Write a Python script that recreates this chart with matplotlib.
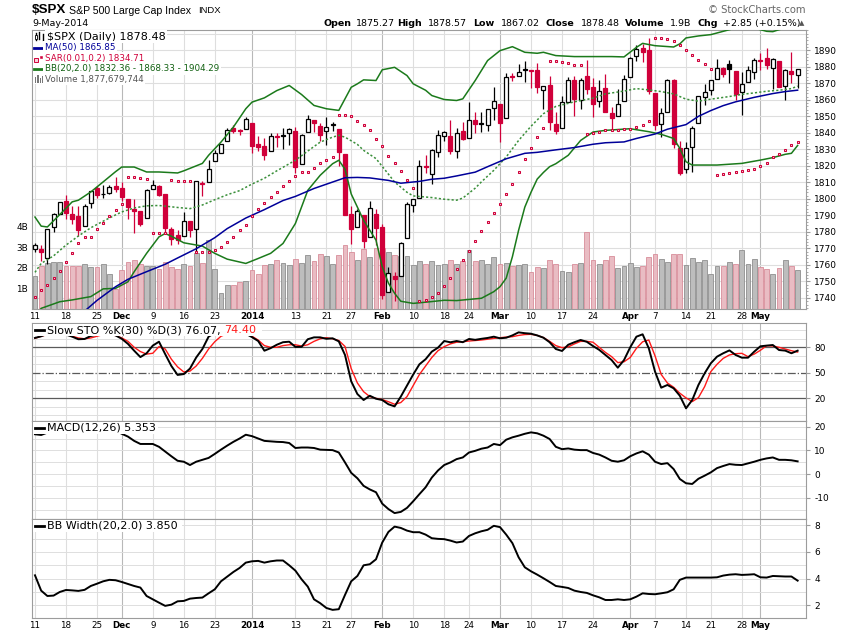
import numpy as np
import matplotlib.pyplot as plt
from matplotlib.lines import Line2D
from matplotlib.patches import Rectangle
from matplotlib.ticker import MultipleLocator
from matplotlib.transforms import blended_transform_factory

plt.rcParams['font.family'] = ['DejaVu Sans']
plt.rcParams['axes.unicode_minus'] = False

# ---------------- values (one entry per trading day, 11-Nov-2013 .. 9-May-2014) ----------------
prev_close = 1770.61

opens = [1769.65, 1769.51, 1764.37, 1782.75, 1790.66, 1798.82, 1790.79, 1789.59, 1783.52, 1797.21,
         1806.33, 1802.87, 1803.48, 1808.01, 1806.55, 1800.10, 1794.17, 1792.82, 1788.36, 1806.21,
         1807.60, 1802.76, 1781.71, 1777.98, 1777.48, 1786.47, 1781.46, 1809.00, 1810.39, 1822.92,
         1828.02, 1834.96, 1842.97, 1841.47, 1842.61, 1845.86, 1833.21, 1832.31, 1828.71, 1837.90,
         1839.00, 1840.06, 1841.26, 1821.36, 1840.52, 1847.99, 1844.23, 1841.05, 1844.71, 1842.29,
         1826.96, 1791.03, 1783.00, 1790.15, 1777.17, 1790.88, 1782.68, 1743.82, 1753.38, 1752.99,
         1776.01, 1796.20, 1800.45, 1820.12, 1814.82, 1828.46, 1838.22, 1838.30, 1829.24, 1841.07,
         1836.78, 1847.66, 1845.79, 1844.90, 1855.12, 1857.68, 1849.23, 1874.05, 1874.18, 1878.52,
         1877.86, 1878.26, 1866.15, 1869.06, 1845.07, 1842.81, 1858.92, 1872.25, 1860.09, 1874.53,
         1867.67, 1859.48, 1867.09, 1852.11, 1850.07, 1859.16, 1873.96, 1886.61, 1891.43, 1890.25,
         1863.92, 1845.48, 1852.64, 1872.28, 1830.65, 1818.18, 1831.45, 1846.01, 1861.73, 1865.79,
         1872.57, 1879.32, 1881.97, 1877.72, 1865.00, 1870.78, 1877.10, 1884.39, 1885.30, 1879.45,
         1883.69, 1868.53, 1877.39, 1875.27]
highs = [1773.44, 1771.78, 1782.00, 1791.53, 1798.22, 1802.33, 1795.51, 1795.73, 1797.16, 1804.84,
         1808.09, 1808.42, 1808.27, 1813.55, 1810.02, 1800.10, 1799.80, 1792.82, 1806.04, 1811.52,
         1808.52, 1802.97, 1782.99, 1780.92, 1792.22, 1786.77, 1811.08, 1810.88, 1823.75, 1829.75,
         1833.32, 1842.84, 1844.89, 1842.47, 1849.44, 1845.86, 1838.24, 1837.16, 1840.10, 1840.02,
         1843.23, 1843.15, 1843.45, 1839.26, 1850.84, 1847.99, 1846.04, 1849.31, 1846.87, 1842.29,
         1826.96, 1795.98, 1793.87, 1790.15, 1798.77, 1793.88, 1784.83, 1758.73, 1755.79, 1774.06,
         1798.03, 1799.94, 1823.54, 1826.55, 1830.25, 1841.65, 1840.82, 1847.50, 1842.79, 1846.50,
         1858.71, 1852.91, 1852.65, 1854.53, 1867.92, 1857.68, 1876.23, 1876.53, 1881.94, 1883.57,
         1877.87, 1882.35, 1868.38, 1874.40, 1852.44, 1862.30, 1873.76, 1874.14, 1873.49, 1883.97,
         1873.34, 1871.87, 1875.92, 1855.55, 1866.63, 1875.18, 1885.84, 1893.17, 1893.80, 1897.28,
         1864.04, 1854.95, 1872.43, 1872.53, 1835.07, 1834.19, 1844.02, 1862.31, 1869.63, 1871.89,
         1884.89, 1879.75, 1884.06, 1877.72, 1877.01, 1880.60, 1885.20, 1888.59, 1891.33, 1885.51,
         1883.69, 1878.83, 1889.07, 1878.57]
lows = [1767.85, 1762.29, 1760.64, 1780.22, 1790.66, 1788.00, 1784.72, 1777.23, 1783.52, 1794.70,
        1800.58, 1800.77, 1802.77, 1803.98, 1798.60, 1787.85, 1779.09, 1783.38, 1788.36, 1806.21,
        1801.75, 1780.09, 1772.28, 1772.45, 1777.48, 1777.05, 1767.99, 1801.80, 1810.25, 1822.92,
        1828.02, 1834.96, 1839.81, 1838.77, 1842.41, 1827.74, 1829.13, 1823.73, 1828.71, 1831.40,
        1830.38, 1832.43, 1815.52, 1821.36, 1840.52, 1840.30, 1835.23, 1832.38, 1840.88, 1820.06,
        1790.29, 1772.88, 1783.00, 1770.45, 1777.17, 1772.26, 1739.66, 1743.82, 1737.92, 1752.99,
        1776.01, 1791.83, 1800.41, 1815.97, 1809.22, 1825.59, 1835.07, 1826.99, 1824.58, 1835.60,
        1836.78, 1840.19, 1840.66, 1841.13, 1847.67, 1834.44, 1849.23, 1871.11, 1874.18, 1870.56,
        1867.04, 1863.88, 1854.38, 1841.86, 1839.57, 1842.81, 1858.92, 1850.35, 1854.63, 1863.46,
        1849.69, 1855.96, 1852.56, 1842.11, 1850.07, 1859.16, 1873.96, 1883.79, 1882.65, 1863.26,
        1841.48, 1837.49, 1852.38, 1830.87, 1814.36, 1815.80, 1816.29, 1846.01, 1856.72, 1863.18,
        1872.57, 1873.91, 1870.24, 1859.70, 1850.61, 1870.78, 1872.69, 1878.04, 1878.50, 1866.77,
        1867.72, 1859.79, 1870.05, 1867.02]
closes = [1771.89, 1767.69, 1782.00, 1790.62, 1798.18, 1791.53, 1787.87, 1781.37, 1795.85, 1804.76,
          1802.48, 1802.75, 1807.23, 1805.81, 1800.90, 1795.15, 1792.81, 1785.03, 1805.09, 1808.37,
          1802.62, 1782.22, 1775.50, 1775.32, 1786.54, 1781.00, 1810.65, 1809.60, 1818.32, 1827.99,
          1833.32, 1842.02, 1841.40, 1841.07, 1848.36, 1831.98, 1831.37, 1826.77, 1837.88, 1837.49,
          1838.13, 1842.37, 1819.20, 1838.88, 1848.38, 1845.89, 1838.70, 1843.80, 1844.86, 1828.46,
          1790.29, 1781.56, 1792.50, 1774.20, 1794.19, 1782.59, 1741.89, 1755.20, 1751.64, 1773.43,
          1797.02, 1799.84, 1819.75, 1819.26, 1829.83, 1838.63, 1840.76, 1828.75, 1839.78, 1836.25,
          1847.61, 1845.12, 1845.16, 1854.29, 1859.45, 1845.73, 1873.91, 1873.81, 1877.03, 1878.04,
          1877.17, 1867.63, 1868.20, 1846.34, 1841.13, 1858.83, 1872.25, 1860.77, 1872.01, 1866.52,
          1857.44, 1865.62, 1852.56, 1849.04, 1857.62, 1872.34, 1885.52, 1890.90, 1888.77, 1865.09,
          1845.04, 1851.96, 1872.18, 1833.08, 1815.69, 1830.61, 1842.98, 1862.31, 1864.85, 1871.89,
          1879.55, 1875.39, 1878.61, 1863.40, 1869.43, 1878.33, 1883.95, 1883.68, 1881.14, 1884.66,
          1867.72, 1878.21, 1875.63, 1878.48]
volume_b = [1.62, 2.10, 2.26, 2.31, 2.31, 2.10, 2.10, 2.10, 2.18, 2.05,
            2.05, 2.18, 1.70, 0.97, 1.89, 2.30, 2.38, 2.21, 2.10, 2.10,
            1.94, 2.30, 2.07, 1.94, 2.18, 2.10, 2.75, 2.23, 3.35, 1.94,
            0.78, 1.16, 1.18, 1.31, 1.37, 1.89, 1.70, 2.15, 2.18, 2.38,
            2.26, 2.15, 2.43, 2.26, 2.62, 2.34, 2.67, 2.59, 2.21, 2.64,
            3.12, 2.77, 2.38, 2.91, 2.54, 2.96, 2.99, 2.77, 2.64, 2.57,
            2.57, 2.15, 2.33, 2.18, 2.33, 2.15, 2.18, 2.38, 2.20, 2.35,
            2.86, 2.34, 2.38, 2.18, 2.54, 2.18, 2.24, 2.09, 2.14, 2.18,
            1.81, 2.05, 1.99, 2.38, 2.18, 1.86, 1.80, 2.18, 2.24, 3.74,
            2.38, 2.18, 2.38, 2.57, 1.99, 2.09, 2.23, 2.05, 2.09, 2.55,
            2.67, 2.44, 2.28, 2.67, 2.67, 2.15, 2.48, 2.28, 2.39, 1.70,
            2.09, 2.09, 2.28, 2.18, 2.88, 2.18, 2.44, 2.04, 1.96, 1.70,
            1.99, 2.39, 2.09, 1.88]
sar = [1740.8, 1744.8, 1747.8, 1752.3, 1756.1, 1761.5, 1767.4, 1773.0, 1777.0, 1777.0,
       1781.7, 1785.1, 1789.5, 1793.1, 1797.0, 1813.5, 1813.5, 1812.9, 1812.1, 1779.1,
       1779.6, 1779.6, 1811.5, 1811.1, 1811.1, 1810.7, 1768.0, 1768.0, 1768.0, 1769.0,
       1770.8, 1773.6, 1776.8, 1781.0, 1784.3, 1789.5, 1793.7, 1797.6, 1801.2, 1804.2,
       1807.6, 1810.6, 1813.7, 1816.1, 1816.1, 1818.5, 1821.7, 1823.8, 1825.6, 1850.8,
       1850.8, 1850.0, 1847.3, 1844.7, 1841.9, 1836.4, 1831.8, 1826.2, 1821.7, 1816.7,
       1811.7, 1806.3, 1737.9, 1738.8, 1740.4, 1743.0, 1747.2, 1751.9, 1757.3, 1762.9,
       1768.4, 1774.4, 1780.3, 1785.7, 1791.3, 1797.2, 1802.8, 1809.3, 1816.5, 1824.0,
       1831.0, 1837.3, 1842.7, 1883.6, 1883.6, 1883.0, 1882.4, 1881.4, 1880.8, 1839.6,
       1839.9, 1840.7, 1841.5, 1841.5, 1842.0, 1842.1, 1842.5, 1843.5, 1844.7, 1847.3,
       1897.3, 1897.3, 1896.7, 1895.4, 1893.4, 1890.2, 1887.2, 1884.2, 1882.0, 1878.5,
       1814.4, 1815.3, 1815.9, 1816.5, 1816.9, 1817.3, 1818.1, 1820.1, 1821.9, 1825.2,
       1827.4, 1829.6, 1832.8, 1834.7]

# overlay lines, read at selected days
ma50_day = [8, 10, 13, 15, 18, 21, 23, 26, 29, 31, 34, 37, 40, 42, 45, 48, 50, 52, 54, 57, 59, 62, 64,
            66, 68, 71, 73, 76, 79, 81, 84, 87, 90, 92, 95, 97, 100, 102, 105, 107, 109, 111, 113, 116,
            119, 121, 123]
ma50 = [1732.0, 1738.5, 1746.8, 1751.3, 1755.9, 1760.4, 1764.2, 1769.8, 1776.5, 1782.0, 1788.4, 1793.5,
        1799.0, 1801.5, 1806.3, 1810.2, 1812.8, 1813.0, 1812.7, 1811.2, 1809.5, 1810.6, 1811.9, 1812.5,
        1813.9, 1816.2, 1819.5, 1824.3, 1827.6, 1828.2, 1829.7, 1831.1, 1833.1, 1834.0, 1834.5, 1836.6,
        1839.3, 1842.2, 1845.0, 1850.0, 1853.5, 1856.5, 1858.8, 1861.5, 1863.8, 1865.0, 1865.85]
bb_up_day = [0, 1, 2, 4, 6, 7, 9, 11, 13, 14, 16, 18, 20, 23, 24, 27, 28, 30, 32, 34, 35, 37, 39, 41,
             43, 45, 47, 49, 51, 52, 53, 55, 56, 58, 60, 61, 63, 64, 66, 68, 69, 71, 73, 75, 77, 79,
             81, 82, 84, 87, 90, 93, 95, 97, 98, 100, 103, 104, 105, 107, 109, 110, 111, 112, 113,
             114, 115, 116, 117, 118, 119, 120, 121, 122, 123]
bb_up = [1789.0, 1783.5, 1783.0, 1790.5, 1798.2, 1799.2, 1804.2, 1810.3, 1816.5, 1819.3, 1819.3,
         1816.3, 1816.3, 1815.7, 1817.0, 1821.5, 1826.4, 1834.4, 1843.5, 1854.6, 1858.6, 1861.2,
         1865.6, 1868.7, 1863.2, 1856.6, 1854.6, 1853.6, 1867.6, 1869.7, 1872.1, 1871.7, 1878.2,
         1879.7, 1874.7, 1869.7, 1865.8, 1862.6, 1860.2, 1859.6, 1860.6, 1871.7, 1883.8, 1889.8,
         1892.2, 1888.8, 1888.2, 1888.8, 1886.8, 1886.2, 1886.2, 1886.2, 1886.0, 1891.8, 1894.2,
         1892.8, 1892.0, 1893.9, 1897.5, 1898.7, 1899.5, 1900.5, 1901.5, 1902.5, 1903.5, 1904.0,
         1904.0, 1903.5, 1902.5, 1901.5, 1901.3, 1902.5, 1903.5, 1904.0, 1904.29]
bb_mid_day = [0, 1, 3, 5, 7, 9, 11, 13, 14, 16, 18, 20, 21, 23, 25, 27, 29, 31, 33, 35, 37, 39, 42,
              44, 46, 48, 49, 50, 52, 53, 55, 57, 58, 60, 61, 64, 66, 68, 69, 71, 72, 74, 76, 78, 80,
              82, 84, 87, 90, 92, 95, 97, 99, 101, 103, 105, 107, 109, 112, 114, 116, 118, 120, 122,
              123]
bb_mid = [1755.5, 1760.9, 1765.5, 1772.0, 1777.5, 1782.5, 1786.5, 1790.3, 1792.1, 1794.5, 1795.8,
          1796.0, 1795.6, 1794.8, 1794.1, 1796.3, 1799.5, 1802.5, 1805.0, 1809.0, 1812.5, 1817.0,
          1823.4, 1829.0, 1834.4, 1837.4, 1838.5, 1837.4, 1833.0, 1829.4, 1824.4, 1815.0, 1810.2,
          1804.0, 1801.8, 1800.8, 1799.8, 1799.2, 1800.5, 1806.5, 1810.3, 1817.3, 1825.4, 1835.4,
          1844.0, 1851.6, 1856.0, 1858.8, 1861.0, 1863.6, 1865.3, 1866.8, 1866.0, 1865.0, 1863.6,
          1860.4, 1859.2, 1860.4, 1862.0, 1863.3, 1864.2, 1865.2, 1865.8, 1866.8, 1868.33]
bb_low_day = [0, 1, 4, 6, 9, 11, 13, 15, 16, 18, 20, 21, 22, 24, 27, 29, 31, 34, 36, 38, 40, 42, 44,
              46, 48, 49, 50, 51, 52, 53, 54, 55, 56, 57, 58, 59, 61, 64, 66, 68, 72, 74, 75, 76, 77,
              78, 79, 80, 81, 82, 83, 84, 86, 88, 90, 92, 94, 96, 99, 101, 103, 104, 105, 106, 108,
              110, 114, 117, 119, 121, 122, 123]
bb_low = [1729.0, 1733.7, 1737.7, 1738.8, 1740.8, 1745.5, 1745.8, 1749.8, 1755.9, 1767.0, 1777.0,
          1779.0, 1777.4, 1773.4, 1771.4, 1767.0, 1763.5, 1760.9, 1763.9, 1767.0, 1773.0, 1785.1,
          1805.2, 1814.3, 1821.3, 1823.4, 1818.0, 1803.0, 1795.0, 1787.0, 1781.0, 1775.0, 1759.0,
          1749.0, 1742.8, 1738.0, 1736.7, 1737.8, 1738.6, 1738.4, 1739.8, 1743.8, 1746.8, 1752.0,
          1765.0, 1781.0, 1795.0, 1804.0, 1812.0, 1816.0, 1819.5, 1821.3, 1826.4, 1835.4, 1840.5,
          1841.5, 1842.0, 1842.5, 1840.7, 1839.1, 1836.6, 1830.6, 1822.5, 1820.5, 1820.5, 1820.5,
          1821.5, 1823.5, 1825.0, 1827.0, 1827.6, 1832.36]

# indicator panels, one value per day
sto_k = [91, 93, 96, 97, 97, 95, 92.5, 89.5, 89.8, 93.3, 95, 96, 96, 94, 90, 84, 76, 68.5, 73, 82,
         86.6, 72, 58, 47.5, 48.5, 55, 68, 78, 92.5, 97, 98, 99, 98, 97, 96, 92, 87.4, 76, 79, 83,
         86, 86.6, 80.5, 80.6, 89.5, 91.7, 91.7, 90, 90.6, 87, 71, 40, 25, 18, 23, 19.5, 18, 13,
         10.5, 22, 35, 48, 60, 66, 74.9, 79.6, 87.4, 85.9, 87.4, 86, 89.8, 88.8, 90, 91, 92.5,
         90.6, 91.3, 94, 97.6, 96.6, 96, 94, 91.3, 86, 78, 75.7, 83, 86, 88.6, 86.5, 81.5, 77, 71,
         65, 56, 65, 80, 92.5, 95.3, 78.8, 51.4, 32.5, 35.7, 31.8, 23, 8.2, 18, 35.7, 49.4, 61.2,
         69, 73, 76.4, 71, 67.8, 67.8, 74.9, 81.2, 82, 82.7, 76.8, 76.1, 73, 76.07]
sto_d = [90.6, 93, 95, 96, 96.5, 95.5, 93, 91, 90, 91, 93, 95, 95.5, 94, 91, 87, 80, 75, 72, 73,
         80.8, 78, 66, 57, 51, 52, 58, 67, 78, 86.6, 93, 96, 97.5, 97.5, 96.5, 93, 88.5, 82, 80, 80,
         82, 83, 83, 81.5, 83, 87, 90, 91.3, 90, 88, 81, 55, 38, 27.8, 22, 20, 18.5, 16, 13, 15, 22,
         35, 48, 58, 68, 76, 80.8, 84, 86, 86.6, 87.4, 88, 88.6, 89.5, 90.5, 91.3, 92, 92.5, 94, 95,
         95.3, 94, 91.5, 87, 82, 79.6, 80.5, 84, 87, 87, 86, 80, 74, 69, 62, 63, 68, 78.8, 86.5,
         88.6, 70, 48, 38, 33, 26, 20.5, 16.1, 20.8, 33.7, 51.4, 60, 67, 71, 72.5, 72.9, 69, 72,
         76.5, 81.9, 81.5, 80, 78, 76, 74.40]
macd = [16.8, 16.5, 17.5, 18.5, 19.5, 20, 19.5, 18.5, 18.5, 19, 19.5, 19.2, 18.8, 18.3, 17, 15.8, 14,
        12.7, 12.7, 12.7, 11.5, 9.5, 7.5, 5.6, 5.2, 3.8, 5.2, 6, 6.8, 8.5, 10.3, 12, 13.6, 15, 16.6,
        16, 15, 14, 13.8, 13.6, 13.5, 13.1, 11, 11.2, 11.2, 11, 10.3, 10.2, 10.1, 9.1, 4.9, 0.5, -1.8,
        -5, -6.5, -7.7, -12.5, -14.8, -16.5, -16, -14.3, -11.5, -8.5, -5.6, -1.5, 1.5, 3.8, 4.9, 6.3,
        7, 9.1, 9.8, 10.7, 11.2, 12.7, 12.2, 14.5, 15.5, 16.2, 17, 17.6, 17.2, 16.2, 14.8, 11.5, 10.5,
        10.8, 10.3, 10.1, 10.1, 8.9, 8.2, 7, 5.6, 5.2, 5.8, 7.5, 8.7, 9.6, 8.2, 5.2, 4.2, 4.6, 2.1,
        -2.1, -3.9, -4.2, -2, -0.7, 0.7, 2.5, 3.4, 4.2, 3.9, 3.8, 4.5, 5.2, 6, 6.6, 7, 6, 6, 5.8,
        5.353]
bb_width = [4.25, 3.1, 2.7, 2.73, 3.0, 3.15, 3.12, 3.08, 3.16, 3.45, 3.62, 3.8, 3.91, 3.88, 3.75,
            3.6, 3.45, 3.33, 2.7, 2.45, 2.2, 1.96, 2.05, 2.3, 2.33, 2.5, 2.55, 2.58, 2.9, 3.2, 3.8,
            4.15, 4.5, 4.8, 5.2, 5.3, 5.33, 5.2, 5.3, 5.36, 5.36, 5.0, 4.6, 3.95, 3.4, 2.45, 2.16,
            1.8, 1.66, 1.71, 2.78, 3.8, 4.2, 5.0, 5.08, 5.45, 6.7, 7.5, 7.9, 7.8, 7.6, 7.48, 7.48,
            7.3, 7.03, 6.98, 6.96, 6.85, 6.71, 6.78, 7.2, 7.4, 7.55, 7.66, 7.96, 7.86, 7.3, 6.66, 5.6,
            4.85, 4.55, 4.3, 4.03, 3.75, 3.45, 3.38, 3.3, 3.1, 3.0, 2.93, 2.75, 2.6, 2.4, 2.4, 2.45,
            2.4, 2.45, 2.65, 2.9, 2.85, 2.83, 2.9, 2.98, 3.2, 3.91, 4.08, 4.08, 4.08, 4.08, 4.08, 4.1,
            4.23, 4.3, 4.33, 4.28, 4.3, 4.33, 4.1, 4.08, 4.2, 4.18, 4.16, 4.16, 3.85]

tick_days = [0, 5, 10, 14, 19, 24, 29, 35, 42, 47, 51, 56, 61, 66, 70, 75, 80, 85, 90, 96, 100,
             105, 109, 114, 117]
tick_labels = ['11', '18', '25', 'Dec', '9', '16', '23', '2014', '13', '21', '27', 'Feb', '10', '18',
               '24', 'Mar', '10', '17', '24', 'Apr', '7', '14', '21', '28', 'May']
month_labels = ['Dec', '2014', 'Feb', 'Mar', 'Apr', 'May']

# ---------------- styling ----------------
RED = '#d0003a'
PINK, PINK_EDGE = '#e9bcc3', '#d88d9a'
GRAY, GRAY_EDGE = '#bdbdbd', '#8f8f8f'
GREEN = '#1b7a1b'
NAVY = '#000099'
GRID, GRID_MONTH = '#dedede', '#b8b8b8'
SPINE = '#9c9c9c'

W, H = 850, 633
fig = plt.figure(figsize=(W / 100, H / 100), dpi=100)


def box(x0, y0, x1, y1):
    return [x0 / W, 1 - y1 / H, (x1 - x0) / W, (y1 - y0) / H]


def fp(x, y):
    return x / W, 1 - y / H


def white_box(a, x0, y0, x1, y1):
    a.add_patch(Rectangle(fp(x0, y1), (x1 - x0) / W, (y1 - y0) / H, transform=fig.transFigure,
                          facecolor='white', edgecolor='none', zorder=20))


def fig_line(x0, y0, x1, y1, color, lw=2.0):
    fig.add_artist(Line2D([x0 / W, x1 / W], [1 - y0 / H, 1 - y1 / H], color=color, lw=lw,
                          transform=fig.transFigure, zorder=30))


XLIM = (-0.48, 124.35)
n = len(closes)
x = np.arange(n)
prev = [prev_close] + closes[:-1]
up_day = [c >= p for c, p in zip(closes, prev)]


def vgrid(a):
    for d, lab in zip(tick_days, tick_labels):
        a.axvline(d, color=GRID_MONTH if lab in month_labels else GRID, lw=0.8, zorder=0)


def style_spines(a):
    for s in a.spines.values():
        s.set_color(SPINE)
        s.set_linewidth(0.8)


def date_labels(a):
    a.set_xticks(tick_days)
    a.set_xticklabels(tick_labels)
    for t in a.get_xticklabels():
        t.set_fontsize(6.3)
        if t.get_text() in month_labels:
            t.set_fontweight('bold')
    a.tick_params(axis='x', length=0, pad=2.5)


# ---------------- main price panel ----------------
ax_vol = fig.add_axes(box(32, 30, 806, 309))
ax_vol.set_zorder(1)
ax = fig.add_axes(box(32, 30, 806, 309), sharex=ax_vol)
ax.set_zorder(2)
ax.patch.set_visible(False)

vgrid(ax_vol)
gtr = blended_transform_factory(ax_vol.transAxes, ax.transData)
for p in np.arange(1740, 1901, 10):
    ax_vol.plot([0, 1], [p, p], color=GRID, lw=0.8, transform=gtr, zorder=0)

ax_vol.bar(x, volume_b, width=0.78,
           color=[GRAY if u else PINK for u in up_day],
           edgecolor=[GRAY_EDGE if u else PINK_EDGE for u in up_day], linewidth=0.6, zorder=2)
ax_vol.set_ylim(0, 13.6)
ax_vol.set_yticks([1, 2, 3, 4])
ax_vol.set_yticklabels(['1B', '2B', '3B', '4B'])
ax_vol.tick_params(axis='y', labelsize=6.4, length=0, pad=3)
style_spines(ax_vol)
plt.setp(ax_vol.get_xticklabels(), visible=False)
ax_vol.tick_params(axis='x', length=0)

# candlesticks
for i in range(n):
    col = 'black' if up_day[i] else RED
    hollow = closes[i] >= opens[i]
    lo, hi = min(opens[i], closes[i]), max(opens[i], closes[i])
    ax.plot([i, i], [lows[i], highs[i]], color=col, lw=0.9, zorder=3, solid_capstyle='butt')
    ax.bar(i, max(hi - lo, 0.35), bottom=lo, width=0.64, facecolor='white' if hollow else col,
           edgecolor=col, linewidth=0.9, zorder=4)

ax.plot(bb_up_day, bb_up, color=GREEN, lw=1.1, zorder=5)
ax.plot(bb_low_day, bb_low, color=GREEN, lw=1.1, zorder=5)
ax.plot(bb_mid_day, bb_mid, color='#3a8f3a', lw=1.1, ls=(0, (1.4, 1.4)), zorder=5)
ax.plot(ma50_day, ma50, color=NAVY, lw=1.1, zorder=5)
ax.plot(x, sar, ls='none', marker='s', ms=2.1, mfc='#f7d3da', mec=RED, mew=0.75, zorder=6)

ax.set_ylim(1733.3, 1902.3)
ax.set_xlim(*XLIM)
ax.yaxis.tick_right()
ax.set_yticks(np.arange(1740, 1891, 10))
ax.yaxis.set_minor_locator(MultipleLocator(2))
ax.tick_params(axis='y', which='major', labelsize=6.5, length=3, color=SPINE, pad=3)
ax.tick_params(axis='y', which='minor', length=1.5, color=SPINE)
for s in ax.spines.values():
    s.set_visible(False)
date_labels(ax)
white_box(ax, 32.5, 30.5, 46, 84)

# ---------------- Slow STO ----------------
ax_sto = fig.add_axes(box(32, 323, 806, 421), sharex=ax_vol)
vgrid(ax_sto)
for lv in range(0, 101, 10):
    if lv not in (20, 50, 80):
        ax_sto.axhline(lv, color=GRID, lw=0.7, zorder=0)
ax_sto.axhline(80, color='#5a5a5a', lw=0.9, zorder=1)
ax_sto.axhline(20, color='#5a5a5a', lw=0.9, zorder=1)
ax_sto.axhline(50, color='#5a5a5a', lw=0.9, ls='-.', zorder=1)
ax_sto.plot(x, sto_d, color='#ff1a1a', lw=1.0, zorder=3)
ax_sto.plot(x, sto_k, color='black', lw=1.4, zorder=4)
ax_sto.set_ylim(-6.7, 108.6)
ax_sto.set_yticks([20, 50, 80])
white_box(ax_sto, 32.5, 323.5, 262, 336)

# ---------------- MACD ----------------
ax_macd = fig.add_axes(box(32, 421, 806, 519), sharex=ax_vol)
vgrid(ax_macd)
for lv in range(-15, 21, 5):
    ax_macd.axhline(lv, color=GRID, lw=0.7, zorder=0)
ax_macd.plot(x, macd, color='black', lw=1.4, zorder=3)
ax_macd.set_ylim(-19, 22.4)
ax_macd.set_yticks([-10, 0, 10, 20])
white_box(ax_macd, 32.5, 421.5, 158, 434)

# ---------------- BB Width ----------------
ax_bbw = fig.add_axes(box(32, 519, 806, 618), sharex=ax_vol)
vgrid(ax_bbw)
for lv in range(2, 9):
    ax_bbw.axhline(lv, color=GRID, lw=0.7, zorder=0)
ax_bbw.plot(x, bb_width, color='black', lw=1.4, zorder=3)
ax_bbw.set_ylim(1.05, 8.47)
ax_bbw.set_yticks([2, 4, 6, 8])
white_box(ax_bbw, 32.5, 519.5, 182, 532)

for a in (ax_sto, ax_macd, ax_bbw):
    a.yaxis.tick_right()
    a.tick_params(axis='y', labelsize=6.5, length=3, color=SPINE, pad=3)
    style_spines(a)
    a.set_xlim(*XLIM)
for a in (ax_sto, ax_macd):
    plt.setp(a.get_xticklabels(), visible=False)
    a.tick_params(axis='x', length=0)
date_labels(ax_bbw)
ax_bbw.tick_params(axis='x', labelbottom=True)

# ---------------- header ----------------
fig.text(*fp(32, 10), '$SPX', fontsize=9.6, fontweight='bold', family='Liberation Sans', va='center')
fig.text(*fp(69, 10.5), 'S&P 500 Large Cap Index', fontsize=7.6, family='Liberation Sans', va='center')
fig.text(*fp(198, 10.5), 'INDX', fontsize=6.8, family='Liberation Sans', va='center')
fig.text(*fp(32, 23.5), '9-May-2014', fontsize=6.8, va='center')
fig.text(*fp(806, 10), '\u00a9 StockCharts.com', fontsize=7.2, color='#666666', va='center', ha='right')

header = [('Open', 323, True), ('1875.27', 356, False), ('High', 397, True), ('1878.57', 428, False),
          ('Low', 473, True), ('1867.02', 501, False), ('Close', 545, True), ('1878.48', 581, False),
          ('Volume', 625, True), ('1.9B', 670, False), ('Chg', 698, True), ('+2.85 (+0.15%)', 723, False)]
for s, hx, bold in header:
    fig.text(*fp(hx, 23.5), s, fontsize=6.8, fontweight='bold' if bold else 'normal', va='center')
fig.text(*fp(799, 23), '\u25b2', fontsize=5, color='#555555', va='center')

# ---------------- legends ----------------
wb = dict(facecolor='white', edgecolor='none', pad=1.2)
for cx, h0, h1 in [(35.5, 33, 40), (39, 32, 39), (42.5, 34, 40)]:
    fig_line(cx, h0, cx, h1, 'black', lw=1.0)
fig.add_artist(Rectangle(fp(34.5, 38.5), 2 / W, 4 / H, transform=fig.transFigure,
                         facecolor='white', edgecolor='black', lw=0.6, zorder=31))
fig.text(*fp(47, 36.5), '$SPX (Daily) 1878.48', fontsize=8, va='center', zorder=32, bbox=wb)
fig_line(34, 47.5, 43, 47.5, NAVY, lw=2)
fig.text(*fp(45, 47.5), 'MA(50) 1865.85', fontsize=6.3, color=NAVY, va='center', zorder=32, bbox=wb)
fig.add_artist(Line2D([36 / W], [1 - 59.5 / H], ls='none', marker='s', ms=2.2, mfc='#f7d3da',
                      mec=RED, mew=0.7, transform=fig.transFigure, zorder=31))
fig.add_artist(Line2D([40.5 / W], [1 - 56.5 / H], ls='none', marker='s', ms=1.5, mfc=RED,
                      mec=RED, mew=0.4, transform=fig.transFigure, zorder=31))
fig.text(*fp(45, 58.3), 'SAR(0.01,0.2) 1834.71', fontsize=6.3, color=RED, va='center', zorder=32,
         bbox=wb)
fig_line(34, 69, 43, 69, GREEN, lw=2)
fig.text(*fp(45, 69), 'BB(20,2.0) 1832.36 - 1868.33 - 1904.29', fontsize=6.3, color='#106010',
         va='center', zorder=32, bbox=wb)
for bx, bh in [(34.5, 6), (37, 8), (39.5, 5), (42, 7)]:
    fig.add_artist(Rectangle(fp(bx, 83), 1.8 / W, bh / H, transform=fig.transFigure,
                             facecolor='#777777', edgecolor='none', zorder=31))
fig.text(*fp(45, 79.3), 'Volume 1,877,679,744', fontsize=6.3, color='#555555', va='center', zorder=32,
         bbox=wb)

# indicator panels
fig_line(35, 330, 44, 330, 'black', lw=2)
t = fig.text(*fp(47, 330), 'Slow STO %K(30) %D(3) 76.07, ', fontsize=8, va='center', zorder=32)
fig.canvas.draw()
bb = t.get_window_extent()
fig.text(bb.x1 / W, 1 - 330 / H, '74.40', fontsize=8, color='#ff1a1a', va='center', zorder=32)
fig_line(35, 428, 44, 428, 'black', lw=2)
fig.text(*fp(47, 428), 'MACD(12,26) 5.353', fontsize=8, va='center', zorder=32)
fig_line(35, 526, 44, 526, 'black', lw=2)
fig.text(*fp(47, 526), 'BB Width(20,2.0) 3.850', fontsize=8, va='center', zorder=32)

fig.savefig('out.png', dpi=100, facecolor='white')
